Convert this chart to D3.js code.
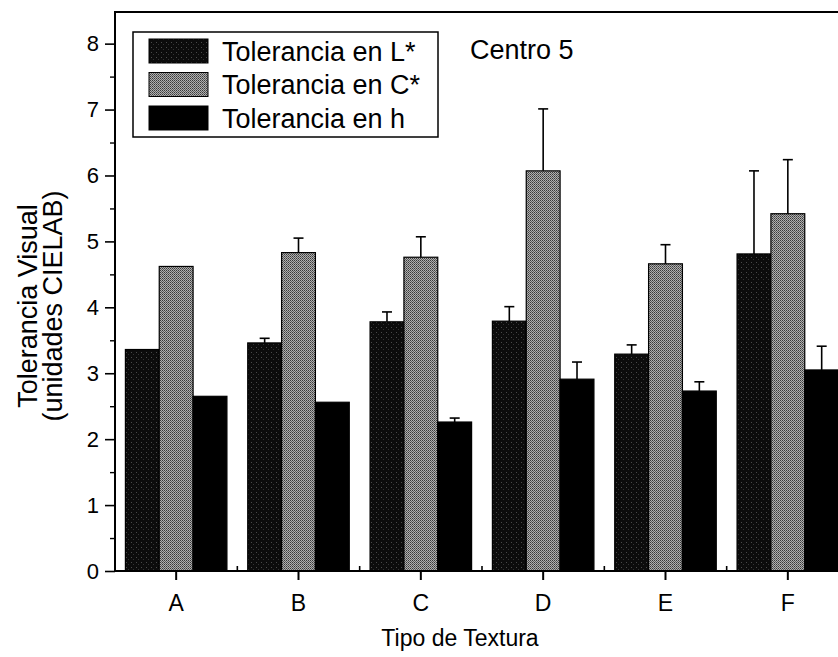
<!DOCTYPE html>
<html>
<head>
<meta charset="utf-8">
<script src="https://cdn.jsdelivr.net/npm/d3@7/dist/d3.min.js"></script>
<style>
  html, body { margin: 0; padding: 0; background: #fff; }
  svg { display: block; }
  text { font-family: "Liberation Sans", Arial, Helvetica, sans-serif; fill: #000; }
</style>
</head>
<body>
<svg id="chart" width="838" height="657"></svg>
<script>
// ---- data ----
const categories = ["A", "B", "C", "D", "E", "F"];
const seriesNames = ["Tolerancia en L*", "Tolerancia en C*", "Tolerancia en h"];
const valuesL = [3.36, 3.46, 3.78, 3.79, 3.29, 4.81];
const valuesC = [4.62, 4.83, 4.76, 6.07, 4.66, 5.42];
const valuesH = [2.65, 2.56, 2.26, 2.91, 2.73, 3.05];
const errorsL = [0.00, 0.07, 0.15, 0.22, 0.14, 1.26];
const errorsC = [0.00, 0.22, 0.31, 0.94, 0.29, 0.82];
const errorsH = [0.00, 0.00, 0.06, 0.26, 0.14, 0.36];
const yTicks = [0, 1, 2, 3, 4, 5, 6, 7, 8];
const yTitle = ["Tolerancia Visual", "(unidades CIELAB)"];
const xTitle = "Tipo de Textura";
const panelLabel = "Centro 5";

const values = [valuesL, valuesC, valuesH];
const errors = [errorsL, errorsC, errorsH];

// ---- layout ----
const svg = d3.select("#chart");
const mLeft = 115, mTop = 12, mBottom = 571, mRight = 849;

const y = d3.scaleLinear().domain([0, 8.48]).range([mBottom, mTop]);
const x = d3.scaleBand().domain(categories).range([mLeft, mRight])
  .paddingInner(0.17).paddingOuter(0.085);
const xs = d3.scaleBand().domain(d3.range(3)).range([0, x.bandwidth()]);

// patterns
const defs = svg.append("defs");
const pL = defs.append("pattern").attr("id", "patL").attr("patternUnits", "userSpaceOnUse")
  .attr("width", 5).attr("height", 5);
pL.append("rect").attr("width", 5).attr("height", 5).attr("fill", "#0c0c0c");
pL.append("rect").attr("x", 1).attr("y", 2).attr("width", 1).attr("height", 1).attr("fill", "#4a4a4a");
pL.append("rect").attr("x", 3).attr("y", 4).attr("width", 1).attr("height", 1).attr("fill", "#333");
const pC = defs.append("pattern").attr("id", "patC").attr("patternUnits", "userSpaceOnUse")
  .attr("width", 2).attr("height", 2);
pC.append("rect").attr("width", 2).attr("height", 2).attr("fill", "#b0b0b0");
pC.append("rect").attr("x", 0).attr("y", 0).attr("width", 1).attr("height", 1).attr("fill", "#3a3a3a");
pC.append("rect").attr("x", 1).attr("y", 1).attr("width", 1).attr("height", 1).attr("fill", "#5e5e5e");
const fills = ["url(#patL)", "url(#patC)", "#000"];

// bars
const g = svg.append("g");
values.forEach((vals, s) => {
  g.selectAll(".bar" + s).data(categories).enter().append("rect")
    .attr("x", d => x(d) + xs(s))
    .attr("y", (d, i) => y(vals[i]))
    .attr("width", xs.bandwidth())
    .attr("height", (d, i) => y(0) - y(vals[i]))
    .attr("fill", fills[s])
    .attr("stroke", "#000").attr("stroke-width", 1.2);
});

// error bars
values.forEach((vals, s) => {
  categories.forEach((c, i) => {
    const e = errors[s][i];
    if (e <= 0) return;
    const cx = x(c) + xs(s) + xs.bandwidth() / 2;
    g.append("line").attr("x1", cx).attr("x2", cx)
      .attr("y1", y(vals[i])).attr("y2", y(vals[i] + e))
      .attr("stroke", "#000").attr("stroke-width", 1.6);
    g.append("line").attr("x1", cx - 5).attr("x2", cx + 5)
      .attr("y1", y(vals[i] + e)).attr("y2", y(vals[i] + e))
      .attr("stroke", "#000").attr("stroke-width", 1.6);
  });
});

// frame
svg.append("line").attr("x1", mLeft).attr("x2", mRight).attr("y1", mTop).attr("y2", mTop)
  .attr("stroke", "#000").attr("stroke-width", 2);
svg.append("line").attr("x1", mLeft).attr("x2", mRight).attr("y1", mBottom).attr("y2", mBottom)
  .attr("stroke", "#000").attr("stroke-width", 2);
svg.append("line").attr("x1", mLeft).attr("x2", mLeft).attr("y1", mTop - 1).attr("y2", mBottom + 1)
  .attr("stroke", "#000").attr("stroke-width", 2);

// y axis
const yAxis = d3.axisLeft(y).tickValues(yTicks).tickSize(10).tickPadding(6).tickFormat(d3.format("d"));
const ya = svg.append("g").attr("transform", `translate(${mLeft},0)`).call(yAxis);
ya.select(".domain").remove();
ya.selectAll("line").attr("stroke-width", 1.6);
ya.selectAll("text").style("font-size", "22px").style("font-family", "Liberation Sans, Arial, sans-serif");
const yMinor = d3.axisLeft(y).tickValues(yTicks.slice(0, -1).map(d => d + 0.5)).tickSize(5).tickFormat("");
const ym = svg.append("g").attr("transform", `translate(${mLeft},0)`).call(yMinor);
ym.select(".domain").remove();
ym.selectAll("line").attr("stroke-width", 1.4);

// x axis
const xAxis = d3.axisBottom(x).tickSize(9).tickPadding(15);
const xa = svg.append("g").attr("transform", `translate(0,${mBottom})`).call(xAxis);
xa.select(".domain").remove();
xa.selectAll("line").attr("stroke-width", 2);
xa.selectAll("text").style("font-size", "23px").style("font-family", "Liberation Sans, Arial, sans-serif");
// minor ticks between groups (pointing inward)
const minorX = categories.slice(1).map(c => x(c) - x.step() * x.paddingInner() / 2);
svg.append("g").selectAll("line").data(minorX).enter().append("line")
  .attr("x1", d => d).attr("x2", d => d).attr("y1", mBottom).attr("y2", mBottom - 5)
  .attr("stroke", "#000").attr("stroke-width", 1.6);

// titles
svg.append("text").attr("x", 460).attr("y", 646).attr("text-anchor", "middle")
  .style("font-size", "23px").text(xTitle);
const yt = svg.append("g").attr("transform", "translate(0,306) rotate(-90)");
yt.append("text").attr("x", 0).attr("y", 37).attr("text-anchor", "middle")
  .style("font-size", "27px").text(yTitle[0]);
yt.append("text").attr("x", 0).attr("y", 62).attr("text-anchor", "middle")
  .style("font-size", "27px").text(yTitle[1]);

// panel label
svg.append("text").attr("x", 470).attr("y", 59).style("font-size", "27px").text(panelLabel);

// legend
const lg = svg.append("g");
lg.append("rect").attr("x", 133).attr("y", 32).attr("width", 305).attr("height", 105)
  .attr("fill", "#fff").attr("stroke", "#000").attr("stroke-width", 1.5);
seriesNames.forEach((name, s) => {
  const cy = 51 + s * 33.5;
  lg.append("rect").attr("x", 149).attr("y", cy - 12).attr("width", 59).attr("height", 24)
    .attr("fill", fills[s]).attr("stroke", "#000").attr("stroke-width", 1);
  lg.append("text").attr("x", 222).attr("y", cy + 9.5).style("font-size", "27px").text(name);
});
</script>
</body>
</html>
